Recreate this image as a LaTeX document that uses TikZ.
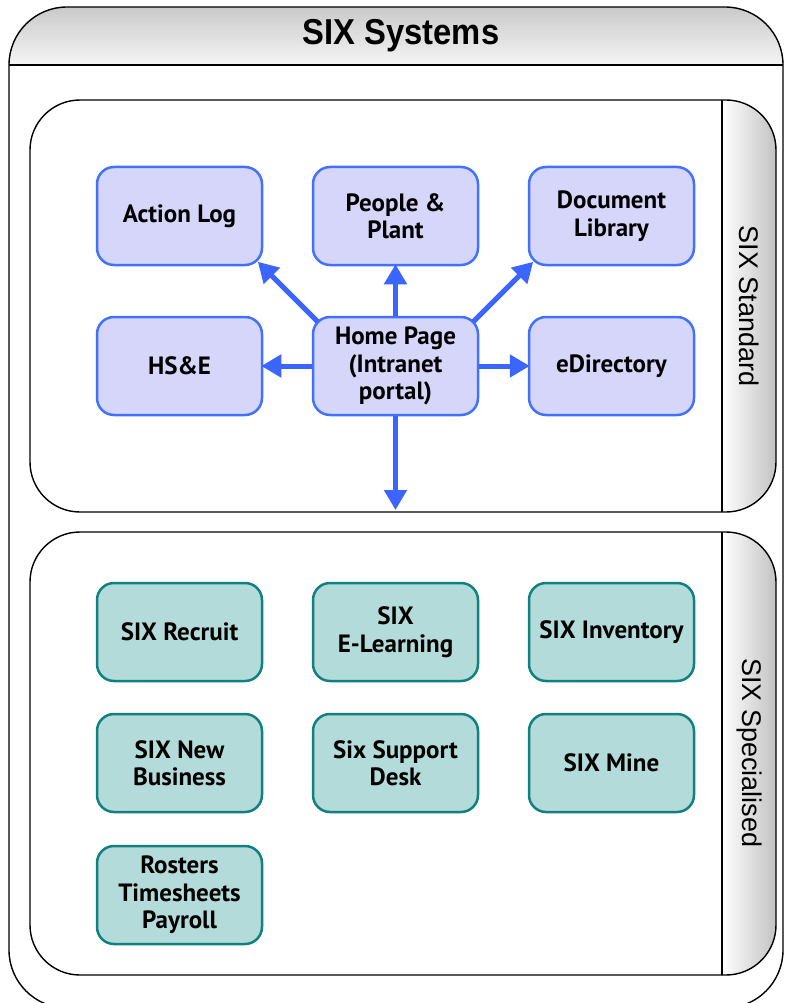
\documentclass[tikz,border=0pt]{standalone}
\usepackage{fontspec}
\setmainfont{Liberation Sans}
\newfontfamily\boxfont{PT Sans}
\usetikzlibrary{arrows.meta,calc}
\definecolor{bfill}{RGB}{214,214,250}
\definecolor{bline}{RGB}{66,112,255}
\definecolor{arrowc}{RGB}{60,100,255}
\definecolor{tfill}{RGB}{179,219,217}
\definecolor{tline}{RGB}{16,128,128}
\definecolor{bandgray}{RGB}{190,190,190}
\tikzset{
  sysbox/.style={draw=bline, fill=bfill, line width=2.5pt, rounded corners=17pt,
    minimum width=165pt, minimum height=98pt, align=center,
    font=\boxfont\bfseries\fontsize{25}{27.5}\selectfont, inner sep=0pt},
  specbox/.style={sysbox, draw=tline, fill=tfill},
  conn/.style={draw=arrowc, line width=5pt, -{Triangle[length=20pt,width=22pt]}, shorten >=-2pt},
  frame/.style={draw=black, line width=1.4pt},
  sidelabel/.style={rotate=-90, font=\fontsize{27}{30}\selectfont}
}
\begin{document}
\begin{tikzpicture}[x=1pt,y=-1pt]
\useasboundingbox (0,0) rectangle (784,1003);
% outer frame
\begin{scope}
  \clip[rounded corners=58pt] (9,7) rectangle (783,1008);
  \shade[top color=bandgray!90, bottom color=white!96!black] (0,0) rectangle (800,65);
\end{scope}
\draw[frame, rounded corners=58pt] (9,7) rectangle (783,1008);
\draw[frame] (9,65) -- (783,65);
\node[font=\bfseries\fontsize{36}{40}\selectfont, xscale=0.91] (title) at (401,36) {SIX Systems};

% standard container
\begin{scope}
  \clip[rounded corners=50pt] (30,100) rectangle (776,512);
  \shade[left color=white, right color=bandgray] (722,90) rectangle (780,520);
\end{scope}
\draw[frame, rounded corners=50pt] (30,100) rectangle (776,512);
\draw[frame] (722,100) -- (722,512);
\node[sidelabel] (stdlabel) at (749,306) {SIX Standard};

% specialised container
\begin{scope}
  \clip[rounded corners=50pt] (30,532) rectangle (776,975);
  \shade[left color=white, right color=bandgray] (722,520) rectangle (780,985);
\end{scope}
\draw[frame, rounded corners=50pt] (30,532) rectangle (776,975);
\draw[frame] (722,532) -- (722,975);
\node[sidelabel] (speclabel) at (749,753) {SIX Specialised};

% standard boxes
\node[sysbox] (al) at (179.5,216) {Action Log};
\node[sysbox] (pp) at (395.5,216) {People \&\\Plant};
\node[sysbox] (dl) at (611.5,216) {Document\\Library};
\node[sysbox] (hse) at (179.5,366) {HS\&E};
\node[sysbox] (hp) at (395.5,366) {Home Page\\(Intranet\\portal)};
\node[sysbox] (ed) at (611.5,366) {eDirectory};

% connectors
\coordinate (down) at (395.5,508);
\draw[conn] ([shift={(6,6)}]hp.north west) -- ([shift={(-4,-3)}]al.south east);
\draw[conn] (hp.north) -- (pp.south);
\draw[conn] ([shift={(-6,6)}]hp.north east) -- ([shift={(4,-3)}]dl.south west);
\draw[conn] (hp.west) -- (hse.east);
\draw[conn] (hp.east) -- (ed.west);
\draw[conn] (hp.south) -- (down);

% specialised boxes
\node[specbox] (rec) at (179.5,632) {SIX Recruit};
\node[specbox] (elr) at (395.5,632) {SIX\\E-Learning};
\node[specbox] (inv) at (611.5,632) {SIX Inventory};
\node[specbox] (nb) at (179.5,763) {SIX New\\Business};
\node[specbox] (sd) at (395.5,763) {Six Support\\Desk};
\node[specbox] (mine) at (611.5,763) {SIX Mine};
\node[specbox] (rtp) at (179.5,895) {Rosters\\Timesheets\\Payroll};
\end{tikzpicture}
\end{document}
